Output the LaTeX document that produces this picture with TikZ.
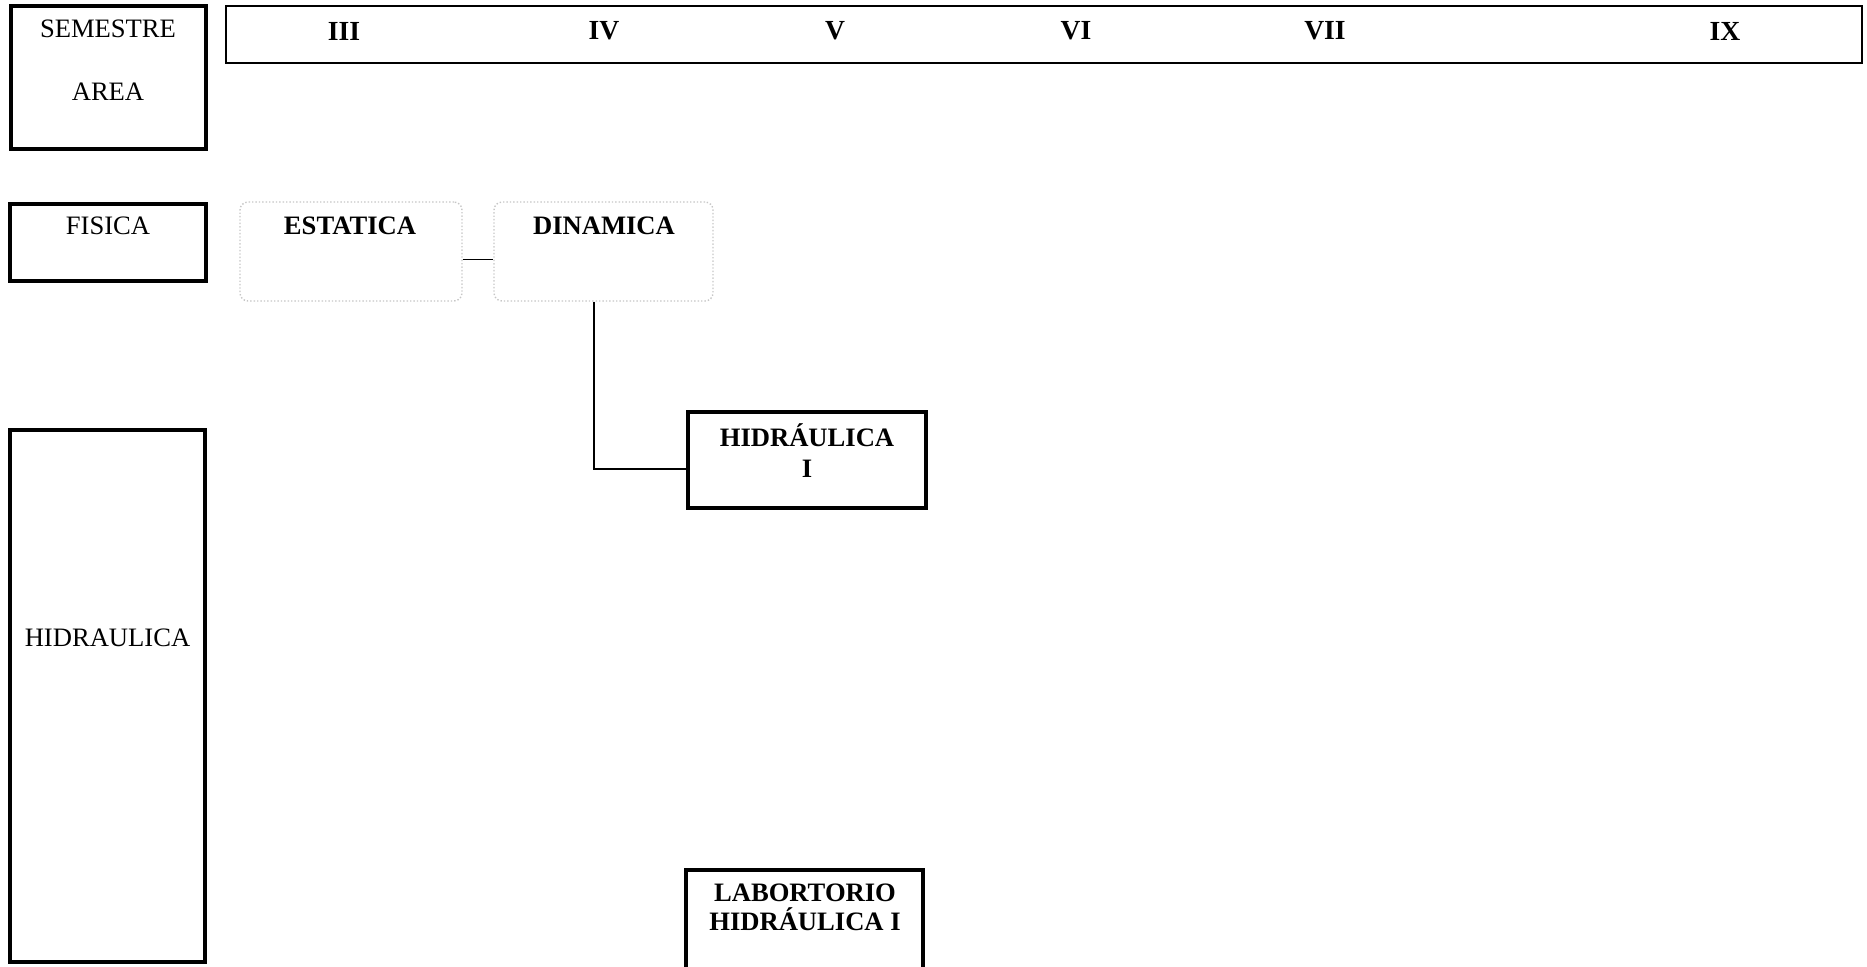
\documentclass[tikz,border=0pt]{standalone}
\usepackage{fontspec}
\setmainfont{Liberation Serif}
\usetikzlibrary{positioning}

\tikzset{
  areabox/.style={draw, line width=1.8pt, inner sep=0pt},
  headbar/.style={draw, line width=0.9pt, inner sep=0pt},
  subjbox/.style={draw, line width=2pt, inner sep=0pt},
  faintbox/.style={draw=gray!45, densely dotted, line width=0.7pt, rounded corners=4pt, inner sep=0pt},
  arealabel/.style={inner sep=0pt, font=\fontsize{13.3}{16}\selectfont},
  subjlabel/.style={inner sep=0pt, align=center, font=\fontsize{13.3}{15.5}\selectfont\bfseries},
  semlabel/.style={inner sep=0pt, font=\fontsize{13.8}{16}\selectfont\bfseries},
  link/.style={draw, line width=0.7pt}
}

\begin{document}
\begin{tikzpicture}[x=0.5pt, y=-0.5pt]
    \useasboundingbox (0,0) rectangle (1867,966);
    \clip (0,0) rectangle (1867,966);

    % Header: semester / area corner and semester bar
    \node[areabox, minimum width=97.5pt, minimum height=71.5pt] (corner) at (108.5,77.5) {};
    \node[arealabel] (semestre) at (108,29) {SEMESTRE};
    \node[arealabel] (area) at (108,92) {AREA};
    \node[headbar, minimum width=818pt, minimum height=28.5pt] (bar) at (1044,34.5) {};
    \foreach \sem/\xpos in {III/344, IV/604, V/835, VI/1076, VII/1325, IX/1725}
        \node[semlabel] (sem\sem) at (\xpos,31) {\sem};

    % Area column
    \node[areabox, minimum width=98pt, minimum height=38.5pt] (fisica) at (108,242.5) {};
    \node[arealabel] (fisicatxt) at (108,226) {FISICA};
    \node[areabox, minimum width=97.5pt, minimum height=266pt] (hidraulica) at (107.5,696) {};
    \node[arealabel] (hidraulicatxt) at (107.5,638) {HIDRAULICA};

    % Fisica subjects (faint boxes)
    \node[faintbox, minimum width=111pt, minimum height=49.5pt] (estatica) at (351,251.5) {};
    \node[subjlabel] (estaticatxt) at (350,226) {ESTATICA};
    \node[faintbox, minimum width=109.5pt, minimum height=49.5pt] (dinamica) at (603.5,251.5) {};
    \node[subjlabel] (dinamicatxt) at (604,226) {DINAMICA};

    % Hidraulica subjects
    \node[subjbox, minimum width=119pt, minimum height=48pt] (hidone) at (807,460) {};
    \node[subjlabel] (hidonetxt) at (807,450.5) {HIDRÁULICA\\I};
    \node[subjbox, minimum width=118.5pt, minimum height=60pt] (labhid) at (804.5,930) {};
    \node[subjlabel, font=\fontsize{13.3}{14.5}\selectfont\bfseries] (labhidtxt) at (805,907.5) {LABORTORIO\\HIDRÁULICA I};

    % Prerequisite links
    \draw[link] ([yshift=-4pt]estatica.east) -- ([yshift=-4pt]dinamica.west);
    \draw[link] ([xshift=-4.75pt]dinamica.south) |- ([yshift=-4.5pt]hidone.west);
\end{tikzpicture}
\end{document}
